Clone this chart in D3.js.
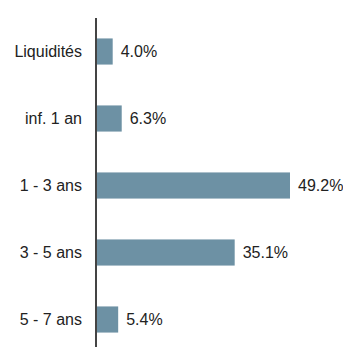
<!DOCTYPE html>
<html>
<head>
<meta charset="utf-8">
<script src="https://cdn.jsdelivr.net/npm/d3@7"></script>
<style>
  html, body { margin: 0; padding: 0; background: #fff; }
  svg { display: block; }
  text { font-family: "Liberation Sans", Arial, sans-serif; font-size: 16px; fill: #222; }
</style>
</head>
<body>
<svg id="chart" width="343" height="347"></svg>
<script>
// Maturity buckets and their share of the portfolio (%)
const categories = ["Liquidités", "inf. 1 an", "1 - 3 ans", "3 - 5 ans", "5 - 7 ans"];
const values = [4.0, 6.3, 49.2, 35.1, 5.4];
const valueLabels = ["4.0%", "6.3%", "49.2%", "35.1%", "5.4%"];

const svg = d3.select("#chart");
const axisX = 96;

const y = d3.scaleBand()
  .domain(categories)
  .range([18, 353])
  .paddingInner(0.61)
  .paddingOuter(0.305);

const x = d3.scaleLinear()
  .domain([0, 49.2])
  .range([axisX + 1, 290]);

// bars
svg.append("g")
  .selectAll("rect")
  .data(categories)
  .join("rect")
  .attr("x", x(0))
  .attr("y", d => y(d))
  .attr("width", (d, i) => x(values[i]) - x(0))
  .attr("height", y.bandwidth())
  .attr("fill", "#6d91a4");

// value labels
svg.append("g")
  .selectAll("text")
  .data(categories)
  .join("text")
  .attr("x", (d, i) => x(values[i]) + 8)
  .attr("y", d => y(d) + y.bandwidth() / 2)
  .attr("dy", "0.36em")
  .text((d, i) => valueLabels[i]);

// category axis
const axis = svg.append("g")
  .attr("transform", `translate(${axisX},0)`)
  .call(d3.axisLeft(y).tickSize(0).tickPadding(14));
axis.select(".domain").remove();
axis.selectAll("text")
  .attr("fill", "#222")
  .attr("dy", "0.36em")
  .style("font-family", "\"Liberation Sans\", Arial, sans-serif")
  .style("font-size", "16px");

svg.append("line")
  .attr("x1", axisX).attr("x2", axisX)
  .attr("y1", 18).attr("y2", 347)
  .attr("stroke", "#444")
  .attr("stroke-width", 2);
</script>
</body>
</html>
